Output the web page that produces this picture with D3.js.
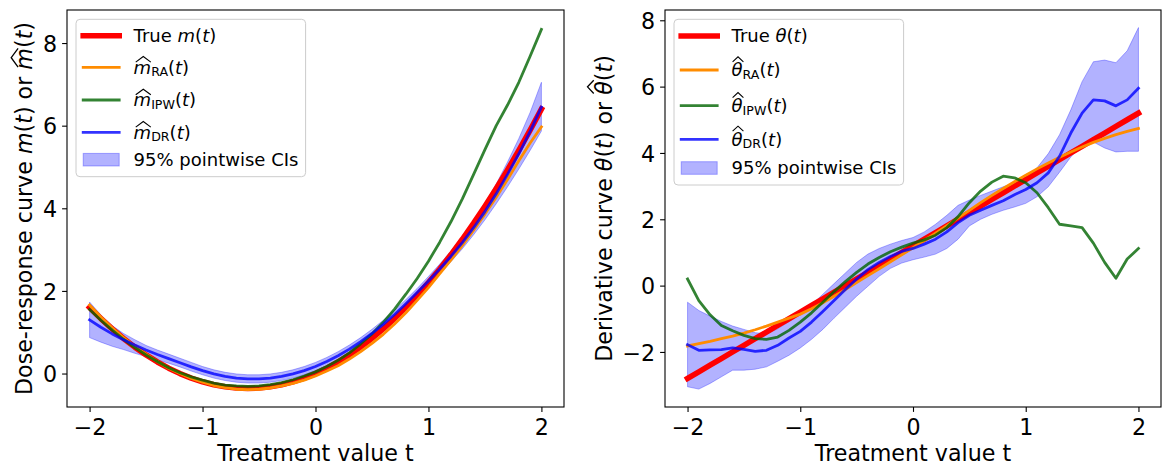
<!DOCTYPE html>
<html>
<head>
<meta charset="utf-8">
<script src="https://cdn.jsdelivr.net/npm/d3@7"></script>
<style>
body { margin: 0; background: #fff; }
text { font-family: "DejaVu Sans", sans-serif; white-space: pre; }
</style>
</head>
<body>
<div id="main_div"></div>
<script>
// treatment grid
const tGrid = [-2.0,-1.9,-1.8,-1.7,-1.6,-1.5,-1.4,-1.3,-1.2,-1.1,-1.0,-0.9,-0.8,-0.7,-0.6,-0.5,-0.4,-0.3,-0.2,-0.1,
  0.0,0.1,0.2,0.3,0.4,0.5,0.6,0.7,0.8,0.9,1.0,1.1,1.2,1.3,1.4,1.5,1.6,1.7,1.8,1.9,2.0];

// left panel: dose-response curve
const mTrue = [1.6,1.33,1.08,0.85,0.64,0.45,0.28,0.13,0,-0.11,-0.2,-0.27,-0.32,-0.35,-0.36,-0.35,-0.32,-0.27,-0.2,-0.11,
  0,0.13,0.28,0.45,0.64,0.85,1.08,1.33,1.6,1.89,2.2,2.53,2.88,3.25,3.64,4.05,4.48,4.93,5.4,5.89,6.4];
const mRA = [1.66,1.37,1.11,0.87,0.66,0.47,0.29,0.13,0.0,-0.12,-0.21,-0.29,-0.34,-0.38,-0.39,-0.38,-0.35,-0.3,-0.24,-0.16,
  -0.06,0.06,0.19,0.35,0.53,0.73,0.95,1.2,1.47,1.77,2.08,2.42,2.75,3.1,3.47,3.86,4.27,4.7,5.15,5.58,5.97];
const mIPW = [1.55,1.29,1.05,0.83,0.63,0.45,0.29,0.14,0.02,-0.08,-0.16,-0.23,-0.28,-0.3,-0.31,-0.3,-0.27,-0.22,-0.15,-0.06,
  0.04,0.17,0.32,0.5,0.72,0.96,1.24,1.56,1.92,2.3,2.72,3.18,3.68,4.23,4.82,5.42,6.0,6.5,7.05,7.68,8.33];
const mDR = [1.3,1.12,0.96,0.82,0.69,0.57,0.46,0.36,0.26,0.16,0.07,-0.01,-0.07,-0.11,-0.13,-0.13,-0.11,-0.07,-0.01,0.07,
  0.17,0.29,0.43,0.59,0.77,0.97,1.19,1.43,1.69,1.96,2.24,2.53,2.84,3.17,3.53,3.92,4.35,4.82,5.32,5.86,6.45];
const mLo = [0.87,0.76,0.66,0.58,0.49,0.41,0.33,0.25,0.16,0.06,-0.03,-0.11,-0.17,-0.21,-0.23,-0.23,-0.21,-0.17,-0.11,-0.03,
  0.07,0.19,0.33,0.49,0.67,0.87,1.09,1.33,1.59,1.86,2.13,2.41,2.71,3.02,3.36,3.72,4.11,4.52,4.95,5.4,5.87];
const mHi = [1.73,1.42,1.16,0.97,0.82,0.68,0.57,0.47,0.37,0.27,0.17,0.09,0.03,-0.01,-0.03,-0.03,-0.01,0.03,0.09,0.17,
  0.27,0.39,0.53,0.69,0.87,1.07,1.29,1.53,1.79,2.06,2.35,2.65,2.97,3.32,3.7,4.12,4.59,5.12,5.69,6.32,7.05];

// right panel: derivative curve
const thTrue = [-2.8,-2.6,-2.4,-2.2,-2.0,-1.8,-1.6,-1.4,-1.2,-1.0,-0.8,-0.6,-0.4,-0.2,0,0.2,0.4,0.6,0.8,1.0,
  1.2,1.4,1.6,1.8,2.0,2.2,2.4,2.6,2.8,3.0,3.2,3.4,3.6,3.8,4.0,4.2,4.4,4.6,4.8,5.0,5.2];
const thRA = [-1.82,-1.75,-1.68,-1.6,-1.52,-1.43,-1.33,-1.22,-1.1,-0.98,-0.86,-0.7,-0.52,-0.32,-0.12,0.09,0.3,0.51,0.72,0.93,
  1.14,1.36,1.58,1.81,2.04,2.27,2.5,2.72,2.93,3.13,3.33,3.52,3.7,3.87,4.03,4.18,4.32,4.44,4.55,4.65,4.74];
const thIPW = [0.2,-0.45,-0.88,-1.2,-1.36,-1.5,-1.6,-1.62,-1.55,-1.35,-1.1,-0.82,-0.5,-0.18,0.12,0.4,0.65,0.85,1.02,1.16,
  1.28,1.38,1.52,1.75,2.08,2.5,2.85,3.12,3.3,3.25,3.1,2.8,2.35,1.85,1.8,1.75,1.28,0.7,0.22,0.8,1.12];
const thDR = [-1.78,-1.95,-1.94,-1.93,-1.88,-1.92,-1.98,-1.95,-1.8,-1.58,-1.38,-1.1,-0.78,-0.45,-0.12,0.2,0.48,0.7,0.88,1.03,
  1.12,1.25,1.4,1.62,1.9,2.12,2.27,2.42,2.56,2.74,2.9,3.1,3.4,3.9,4.6,5.2,5.6,5.57,5.42,5.6,5.95];
const thLo = [-3.05,-3.12,-2.95,-2.75,-2.55,-2.55,-2.52,-2.45,-2.28,-2.1,-1.88,-1.62,-1.32,-0.98,-0.65,-0.32,-0.02,0.28,0.52,0.68,
  0.78,0.86,0.95,1.12,1.4,1.8,2.0,2.15,2.27,2.37,2.48,2.68,2.98,3.42,3.88,4.25,4.33,4.15,4.03,4.05,4.05];
const thHi = [-0.5,-0.75,-0.92,-1.08,-1.22,-1.32,-1.42,-1.45,-1.3,-1.08,-0.85,-0.58,-0.26,0.06,0.38,0.7,0.95,1.12,1.25,1.36,
  1.45,1.62,1.85,2.12,2.42,2.58,2.72,2.85,2.98,3.1,3.25,3.55,3.98,4.55,5.3,6.15,6.75,6.8,6.72,7.08,7.78];

const xTicks = [-2, -1, 0, 1, 2];
const mTicks = [0, 2, 4, 6, 8];
const thTicks = [-2, 0, 2, 4, 6, 8];

const W = 1171, H = 472;
const TOP = 10, BOTTOM = 407;
const FS = 22.2, LFS = 18;

const svg = d3.select("#main_div").append("svg")
    .attr("width", W).attr("height", H);

function mathText(g, x, y, parts, fs, anchor) {
    const txt = g.append("text")
        .attr("x", x).attr("y", y)
        .attr("font-size", fs)
        .attr("fill", "#000")
        .attr("text-anchor", anchor || "start");
    let low = false;
    parts.forEach(p => {
        const ts = txt.append("tspan").text(p.s);
        if (p.it) ts.attr("font-style", "italic");
        if (p.sub) {
            ts.attr("font-size", fs * 0.7);
            if (!low) { ts.attr("dy", fs * 0.15); low = true; }
        } else if (low) {
            ts.attr("dy", -fs * 0.15); low = false;
        }
    });
    const node = txt.node();
    let i = 0;
    parts.forEach(p => {
        if (p.hat) {
            const e = node.getExtentOfChar(i);
            const wide = p.hat === "wide";
            const hw = (wide ? 0.42 : 0.3) * fs;
            const cx = e.x + e.width / 2 + 0.05 * fs;
            const yb = y - (wide ? 0.64 : 0.8) * fs;
            const yt = y - (wide ? 0.95 : 1.08) * fs;
            g.append("path")
                .attr("d", `M${cx - hw},${yb}L${cx},${yt}L${cx + hw},${yb}`)
                .attr("fill", "none")
                .attr("stroke", "#000")
                .attr("stroke-width", 0.06 * fs);
        }
        i += p.s.length;
    });
    return txt;
}

function drawPanel(p) {
    const x = d3.scaleLinear().domain([-2.2, 2.2]).range([p.left, p.right]);
    const y = d3.scaleLinear().domain(p.yDomain).range([BOTTOM, TOP]);
    const g = svg.append("g");

    const line = d3.line()
        .x((d, i) => x(tGrid[i]))
        .y(d => y(d));
    const area = d3.area()
        .x((d, i) => x(tGrid[i]))
        .y0(d => y(d[0]))
        .y1(d => y(d[1]));

    g.append("path")
        .datum(d3.zip(p.lo, p.hi))
        .attr("fill", "blue").attr("fill-opacity", 0.3)
        .attr("stroke", "blue").attr("stroke-opacity", 0.3)
        .attr("stroke-width", 1)
        .attr("d", area);

    p.lines.forEach(s => {
        g.append("path")
            .datum(s.v)
            .attr("fill", "none")
            .attr("stroke", s.color)
            .attr("stroke-opacity", s.op)
            .attr("stroke-width", s.w)
            .attr("stroke-linecap", "square")
            .attr("stroke-linejoin", "round")
            .attr("d", line);
    });

    // axes
    const fmt = d3.format("d");
    const xa = g.append("g")
        .attr("transform", `translate(0,${BOTTOM})`)
        .call(d3.axisBottom(x).tickValues(xTicks).tickFormat(fmt).tickSize(4.9).tickPadding(4.9));
    const ya = g.append("g")
        .attr("transform", `translate(${p.left},0)`)
        .call(d3.axisLeft(y).tickValues(p.ticks).tickFormat(fmt).tickSize(4.9).tickPadding(4.9));
    [xa, ya].forEach(a => {
        a.select(".domain").remove();
        a.attr("font-size", FS).attr("font-family", "DejaVu Sans");
        a.selectAll("line").attr("stroke", "#000").attr("stroke-width", 1.1);
        a.selectAll("text").attr("fill", "#000");
    });
    xa.selectAll("text").attr("dy", "0.8em");
    ya.selectAll("text").attr("dy", "0.365em");

    g.append("rect")
        .attr("x", p.left).attr("y", TOP)
        .attr("width", p.right - p.left).attr("height", BOTTOM - TOP)
        .attr("fill", "none").attr("stroke", "#000").attr("stroke-width", 1.1);

    // axis labels
    g.append("text")
        .attr("x", (p.left + p.right) / 2).attr("y", 461)
        .attr("text-anchor", "middle").attr("font-size", FS).attr("fill", "#000")
        .text("Treatment value t");
    const yl = g.append("g")
        .attr("transform", `translate(${p.ylabelX},${(TOP + BOTTOM) / 2}) rotate(-90)`);
    mathText(yl, 0, 0, p.ylabel, FS, "middle");

    // legend
    const lx = p.left + 9, ly = TOP + 9.3;
    const lg = g.append("g");
    const box = lg.append("rect")
        .attr("x", lx).attr("y", ly).attr("height", p.legendH).attr("rx", 4)
        .attr("fill", "white").attr("fill-opacity", 0.8)
        .attr("stroke", "#cccccc").attr("stroke-width", 1);
    let maxLen = 0;
    p.legend.forEach((r, i) => {
        const cy = ly + p.rowY[i];
        if (r.patch) {
            lg.append("rect")
                .attr("x", lx + 7.2).attr("y", cy - 6.3)
                .attr("width", 36).attr("height", 12.6)
                .attr("fill", "blue").attr("fill-opacity", 0.3)
                .attr("stroke", "blue").attr("stroke-opacity", 0.3);
        } else {
            const s = p.lines[i];
            lg.append("line")
                .attr("x1", lx + 7.2).attr("x2", lx + 43.2)
                .attr("y1", cy).attr("y2", cy)
                .attr("stroke", s.color).attr("stroke-opacity", s.op)
                .attr("stroke-width", s.w).attr("stroke-linecap", "square");
        }
        const t = mathText(lg, lx + 57.6, cy + 6.3, r.parts, LFS);
        maxLen = Math.max(maxLen, t.node().getComputedTextLength());
    });
    box.attr("width", maxLen + 64.8);
}

const it = s => ({ s: s, it: true });
const rm = s => ({ s: s });
const sub = s => ({ s: s, sub: true });

drawPanel({
    left: 67, right: 564, ylabelX: 32.3,
    yDomain: [-0.81, 8.8], ticks: mTicks,
    lo: mLo, hi: mHi,
    lines: [
        { v: mTrue, color: "red", w: 5.6, op: 1 },
        { v: mRA, color: "darkorange", w: 2.8, op: 1 },
        { v: mIPW, color: "darkgreen", w: 2.8, op: 0.8 },
        { v: mDR, color: "blue", w: 2.8, op: 0.8 }
    ],
    ylabel: [rm("Dose-response curve "), it("m"), rm("("), it("t"), rm(") or "),
        { s: "m", it: true, hat: "wide" }, rm("("), it("t"), rm(")")],
    legendH: 157.4,
    rowY: [16.4, 48, 80.7, 113, 140.4],
    legend: [
        { parts: [rm("True "), it("m"), rm("("), it("t"), rm(")")] },
        { parts: [{ s: "m", it: true, hat: "wide" }, sub("RA"), rm("("), it("t"), rm(")")] },
        { parts: [{ s: "m", it: true, hat: "wide" }, sub("IPW"), rm("("), it("t"), rm(")")] },
        { parts: [{ s: "m", it: true, hat: "wide" }, sub("DR"), rm("("), it("t"), rm(")")] },
        { patch: true, parts: [rm("95% pointwise CIs")] }
    ]
});

drawPanel({
    left: 665, right: 1161, ylabelX: 611.5,
    yDomain: [-3.66, 8.31], ticks: thTicks,
    lo: thLo, hi: thHi,
    lines: [
        { v: thTrue, color: "red", w: 5.6, op: 1 },
        { v: thRA, color: "darkorange", w: 2.8, op: 1 },
        { v: thIPW, color: "darkgreen", w: 2.8, op: 0.8 },
        { v: thDR, color: "blue", w: 2.8, op: 0.8 }
    ],
    ylabel: [rm("Derivative curve "), it("θ"), rm("("), it("t"), rm(") or "),
        { s: "θ", it: true, hat: "narrow" }, rm("("), it("t"), rm(")")],
    legendH: 165.7,
    rowY: [16.7, 50.7, 86.4, 120, 148.7],
    legend: [
        { parts: [rm("True "), it("θ"), rm("("), it("t"), rm(")")] },
        { parts: [{ s: "θ", it: true, hat: "narrow" }, sub("RA"), rm("("), it("t"), rm(")")] },
        { parts: [{ s: "θ", it: true, hat: "narrow" }, sub("IPW"), rm("("), it("t"), rm(")")] },
        { parts: [{ s: "θ", it: true, hat: "narrow" }, sub("DR"), rm("("), it("t"), rm(")")] },
        { patch: true, parts: [rm("95% pointwise CIs")] }
    ]
});
</script>
</body>
</html>
